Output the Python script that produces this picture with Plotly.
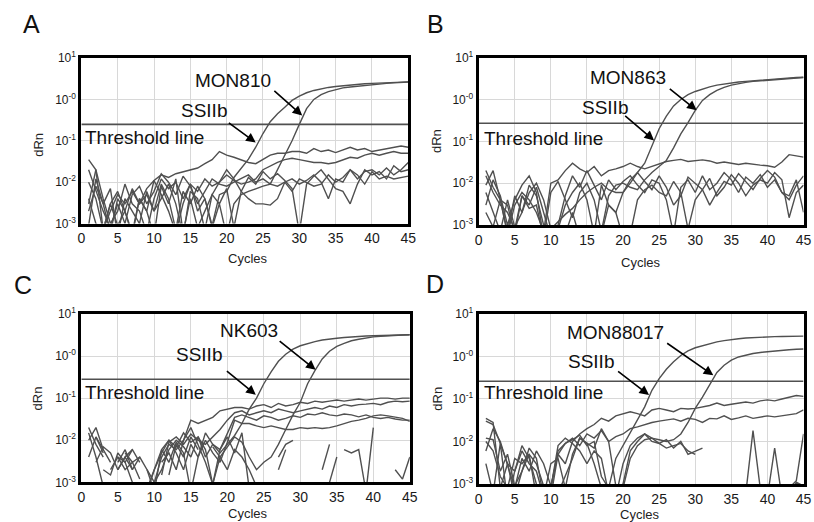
import math
import plotly.graph_objects as go

cycles = list(range(1, 46))
N = None

# ---------------- Panel A ----------------
A_ssiib = [.002,.008,.003,.0006,.004,.002,.007,.003,.005,.002,.009,.004,.0007,.006,.003,.008,.004,.0009,.005,
           .006,.013,.022,.036,.07,.15,.29,.45,.65,.95,1.2,1.45,1.65,1.8,1.95,2.05,2.15,2.25,2.32,2.4,2.45,2.5,2.55,2.6,2.63,2.66]
A_target = [.004,.001,.0007,.003,.006,.002,.0005,.004,.002,.011,.005,.002,.0006,.003,.009,.002,.004,.0008,.003,
            .0005,.003,.005,.006,.007,.008,.009,.02,.045,.1,.25,.6,1.0,1.3,1.55,1.75,1.9,2.0,2.1,2.2,2.3,2.38,2.45,2.52,2.58,2.64]
A_L1 = [.01,.004,.0007,.002,.005,.003,.006,.003,.007,
        .011,.015,.013,.016,.018,.02,.022,.028,.035,.055,
        .045,.04,.035,.03,.028,.035,.045,.05,.05,.055,
        .055,.05,.065,.055,.06,.052,.06,.07,.06,.065,
        .055,.06,.065,.07,.075,.07]
A_L2 = [.003,.02,.004,.001,.002,.009,.003,.002,.0006,.004,
        .012,.007,.01,.004,.009,.006,.012,.008,.01,.015,
        .011,.009,
        .01,.012,.02,.025,.03,.035,.038,.035,.033,.03,.03,.028,.03,.035,.04,.038,.045,.05,.045,.05,.055,.05,.05]
A_L3 = [.02,.006,.002,.0008,.003,.001,.005,.008,.003,.006,
        .016,.01,.005,.014,.008,.003,.006,.012,.009,.008,
        .01,.012,.015,.01,.012,.009,.008,.01,.006,.012,
        .01,.008,.009,.015,.01,.013,.02,.012,.018,.02,
        .015,.022,.015,.02,.03]
A_L4 = [.0009,.012,.003,.007,.0005,.004,.002,.001,.006,.002,
        .004,.009,.003,.0005,.006,.004,.0007,.005,.01,.02,
        .012,.006,.004,.003,.003,.0028,.004,.01,.012,.009,
        .011,.015,.01,.004,.012,.01,.02,.015,.009,.018,
        .012,.014,.012,.013,.014]
A_N1 = [.035,.02,.0007,.003,.0009,.002,.0006,.004,.002,.0005,
        .008,.003,.012,.0006,.004,.0008,.002,.005,.003,.007,
        .0008,.006,.013,.009,.018,.012,.016,.011,.007,.0006,
        .009,.014,.02,.012,.007,.006,.003,.009,.02,.015,
        .018,.012,.025,.018,.02]

# ---------------- Panel B ----------------
B_ssiib = [.006,.002,.0007,.004,.0009,.002,.006,.01,.004,.0008,.0012,.0018,.0025,.004,.006,.008,.01,.007,.006,
           .006,.01,.018,.03,.08,.2,.4,.7,1.0,1.3,1.55,1.8,2.0,2.2,2.35,2.5,2.6,2.7,2.8,2.9,3.0,3.1,3.2,3.3,3.35,3.4]
B_target = [.002,.0009,.004,.003,.0006,.005,.0025,.003,.0005,.006,.011,.004,.0015,.006,.01,.004,.0007,.005,.009,
            .01,.008,.007,.012,.018,.025,.035,.07,.15,.28,.55,.95,1.3,1.65,1.95,2.2,2.4,2.55,2.7,2.8,2.9,3.0,3.1,3.2,3.3,3.35]
B_L1 = [.02,.008,.004,.0006,.003,.006,.004,.002,.0007,.01,
        .012,.02,.03,.022,.018,.025,.015,.02,.022,.025,
        .03,.025,.022,.025,.028,.033,.035,.037,.033,.035,
        .036,.034,.03,.032,.03,.028,.03,.028,.027,.026,
        .024,.032,.048,.045,.042]
B_N1 = [.015,.006,.003,.002,.0008,.005,.003,.008,.002,.0005,
        .001,.005,.015,.008,.02,.009,.004,.012,.007,.011,
        .015,.009,.006,.012,.01,.004,.0006,.008,.012,.006,
        .015,.007,.01,.018,.012,.006,.014,.01,.016,.008,
        .012,.006,.005,.012,.002]
B_N2 = [.009,.02,.004,.0007,.005,.002,.009,.005,.001,.0004,
        .0008,.003,.006,.01,.004,.0006,.009,.003,.002,.006,
        .012,.018,.011,.007,.015,.008,.003,.005,.014,.01,
        .007,.003,.006,.011,.009,.017,.011,.007,.013,.02,
        .014,.006,.004,.009,.015]
B_N3 = [.003,.012,.005,.001,.004,.009,.015,.006,.0005,.0006,
        .0004,.0006,.002,.0005,.0009,.0004,.0006,.003,.002,.0005,
        .0006,.004,.007,.009,.006,.005,.011,.006,.0008,.004,
        .007,.013,.005,.008,.016,.01,.005,.009,.012,.01,
        .018,.012,.0015,.006,.009]

# ---------------- Panel C ----------------
C_ssiib = [.004,.012,.006,.003,N,.005,.003,.004,.002,.0006,.006,.01,.005,.002,.008,.004,.015,.008,.005,
           .008,.013,.025,.055,.1,.22,.42,.75,1.1,1.45,1.75,2.0,2.2,2.4,2.55,2.65,2.75,2.85,2.92,2.98,3.03,3.08,3.12,3.15,3.18,3.2]
C_target = [N,.003,.007,.005,.002,.004,.006,N,.002,.001,.002,.006,.01,.007,.004,.012,.006,.0009,.004,.007,.012,.009,.004,
            .002,.003,.004,.008,.018,.04,.08,.22,.45,.85,1.3,1.7,2.0,2.3,2.5,2.7,2.85,2.95,3.05,3.1,3.15,3.2]
C_L1 = [.015,.004,.0008,N,N,.004,.002,N,N,.001,.004,.008,.006,.01,
        .03,.025,.03,.035,.05,.055,.06,.06,.055,.065,
        .07,.06,.075,.065,.07,.08,.075,.085,.08,.085,
        .09,.085,.09,.095,.09,.095,.1,.1,.095,.1,
        .1]
C_L2 = [N,.012,.005,N,.003,.006,.002,.004,N,N,
        .0015,.009,.012,.008,.014,.01,.008,.012,.018,.03,
        .045,.05,.04,.045,.05,.045,.055,.05,.045,.05,
        .055,.06,.055,.065,.06,.07,.065,.07,.072,.075,
        .07,.08,.085,.082,.085]
C_L3 = [.003,N,N,.002,.004,.003,.006,N,.0006,.002,
        .005,.01,.007,.015,.009,.012,.004,.008,.006,.015,
        .035,.04,.035,.03,.038,.035,.03,.033,.038,.035,
        .042,.04,.045,.04,.038,.042,.04,.036,.04,.035,
        .033,.035,.032,.03,.03]
C_L4 = [N,N,.002,.0015,.005,.003,.001,N,.0007,.002,
        .006,.003,.009,.005,.0006,.004,.01,.005,.003,.009,
        .03,.025,.025,.022,.02,.022,.02,.018,.018,.02,
        .019,.02,.019,.02,.022,.025,.028,.03,.033,.038,
        .04,.038,.035,.033,.028]
C_N1 = [.02,.008,.004,N,.002,.004,.006,.003,N,.0008,
        N,.0015,.008,.004,.012,.006,N,.007,.004,.002,
        .006,.004,.002,.0008,N,N,.004,.008,.01,N,
        N,N,.002,.008,N,.006,.005,.006,.0006,.02,
        N,N,.002,.0012,.004]
C_N2 = [.01,.02,.006,N,.004,.002,.003,.0012,N,N,
        .003,.005,.002,.01,.02,.008,.003,.0009,.006,.012,
        .005,.015,.0007,.0005,N,N,.002,.006,N,N,
        N,N,N,.001,.004,N,N,N,N,N,
        N,N,N,N,N]

# ---------------- Panel D ----------------
D_ssiib = [.003,.0006,.009,.0004,.002,.006,.003,.002,.0005,.0008,.006,.009,.011,.014,.008,.01,.0015,.0008,.004,
           .008,.017,.032,.065,.16,.3,.5,.75,1.05,1.35,1.6,1.8,2.0,2.2,2.35,2.5,2.6,2.7,2.78,2.83,2.88,2.92,2.95,2.97,2.99,3.0]
D_target = [.01,.006,.0015,.0008,.004,.003,.005,.0005,.0007,.0004,.0006,.0015,.004,.012,.009,.007,.02,.01,.0009,
            .0008,.004,.008,.011,.012,.011,.01,.011,.015,.028,.06,.11,.22,.42,.62,.82,.97,1.08,1.17,1.24,1.3,1.35,1.4,1.44,1.48,1.5]
D_L1 = [.03,.025,.009,.003,.0005,.002,.005,.003,.0009,.0005,.005,.003,
        .01,.015,.02,.025,.035,.03,.04,.045,
        .05,.045,.04,.055,.06,.055,.05,.06,.058,.06,
        .065,.07,.08,.07,.075,.08,.085,.08,.09,.095,
        .09,.1,.11,.12,.115]
D_L2 = [.006,.02,.01,.003,.0008,.004,.002,.006,.003,.0009,
        .005,.009,.012,.008,.015,.012,.018,.01,.013,.015,
        .02,.022,.025,.028,.03,.032,.034,.03,.035,.033,
        .028,.035,.034,.04,.033,.036,.04,.035,.038,.04,
        .038,.04,.042,.045,.055]
D_L3 = [.012,.011,.002,.005,.0009,.002,.007,.004,.0005,.0008,
        .008,.012,.009,.006,.003,.006,.004,.0006,.0005,.003,
        .008,.012,.015,.01,.009,.011,.007,.01,.005,.006,
        .007,N,N,N,N,.0005,.0006,.018,.0008,.0005,
        .007,.0005,.0008,.0012,.015]
D_N1 = [.035,.028,.0008,.003,.002,.008,.004,.001,.0005,.003,
        .004,.0008,.005,.012,.009,.003,.0008,.0009,.0007,.001,
        .006,.01,.015,.012,.009,.007,.008,.009,.006,.005,
        N,N,N,N,N,N,.0005,.0007,.0005,N,
        N,N,.0005,.0011,.0009]

# threshold values (dRn) per panel
thresholds = [0.25, 0.27, 0.28, 0.26]
target_names = ["MON810", "MON863", "NK603", "MON88017"]
panel_letters = ["A", "B", "C", "D"]
x_ticks = [0, 5, 10, 15, 20, 25, 30, 35, 40, 45]
y_tickvals = [0.001, 0.01, 0.1, 1, 10]
y_ticktext = ["10<sup>-3</sup>", "10<sup>-2</sup>", "10<sup>-1</sup>", "10<sup>-0</sup>", "10<sup>1</sup>"]

panel_series = [
    [A_ssiib, A_target, A_L1, A_L2, A_L3, A_L4, A_N1],
    [B_ssiib, B_target, B_L1, B_N1, B_N2, B_N3],
    [C_ssiib, C_target, C_L1, C_L2, C_L3, C_L4, C_N1, C_N2],
    [D_ssiib, D_target, D_L1, D_L2, D_L3, D_N1],
]

W, H = 814, 522
# calibration: observed = offset + scale * designed (estimated from earlier renders)
OX, SX, OY, SY = 2.5, 0.987, 9.0, 0.967


def dx_(x):
    return (x - OX) / SX


def dy_(y):
    return (y - OY) / SY


def px(x):
    return min(max(dx_(x) / W, -0.05), 1.05)


def py(y):
    return 1 - dy_(y) / H


LW = 3
# plot frame in reference pixels (outer edge): (left, right, top, bottom)
boxes = [(78.5, 409, 56.5, 224.5), (476.5, 806, 56, 226),
         (78.5, 410.5, 311.7, 482.7), (476.5, 806, 311.7, 484.3)]

# arrows: (head cycle, head dRn, dx px, dy px) for target and SSIIb
arrows = [
    [(30.4, 0.41, -29, -25), (24.0, 0.091, -28, -20)],
    [(30.2, 0.55, -28, -22), (24.3, 0.105, -30, -25)],
    [(32.1, 0.47, -37, -29), (23.9, 0.12, -30, -24)],
    [(32.5, 0.36, -47, -32), (23.6, 0.123, -32, -24)],
]
target_text_pos = [(232, 80), (628, 77), (248, 330), (615, 332)]
ssiib_text_pos = [(203, 110), (605, 107), (198, 354), (591, 361)]
thr_text_pos = [(82, 137), (481, 138), (82, 392), (481, 392)]
letter_pos = [(30, 24), (435, 24), (22, 284), (434, 283)]
dRn_pos = [(37, 144), (436, 141), (37, 397), (437, 398)]
cycles_pos = [(247, 258), (641, 262), (247, 512), (640, 513)]

LINE = "#505050"
fig = go.Figure()
layout = dict(width=W, height=H, autosize=False, margin=dict(l=0, r=0, t=0, b=0),
              paper_bgcolor="white", plot_bgcolor="white", showlegend=False,
              font=dict(family="Arial, Liberation Sans, sans-serif", color="#222"))
annotations = []

for i in range(4):
    sfx = "" if i == 0 else str(i + 1)
    xa, ya = "x" + sfx, "y" + sfx
    l, r, t, b = boxes[i]
    dl, dr, dt, db = dx_(l) + LW / 2, min(dx_(r), W - 1) - LW / 2, dy_(t) + LW / 2, min(dy_(b), H) - LW / 2
    layout["xaxis" + sfx] = dict(domain=[dl / W, dr / W], range=[0, 45], anchor=ya,
                                 tickvals=x_ticks, showgrid=True, gridcolor="#d8d8d8", gridwidth=1,
                                 showline=True, linecolor="black", linewidth=LW, mirror=True,
                                 ticks="", tickfont=dict(size=14, color="#1a1a1a"), zeroline=False,
                                 ticklabeloverflow="allow")
    layout["yaxis" + sfx] = dict(domain=[1 - db / H, 1 - dt / H], type="log", range=[-3, 1], anchor=xa,
                                 tickvals=y_tickvals, ticktext=y_ticktext, showgrid=True,
                                 gridcolor="#d8d8d8", gridwidth=1,
                                 showline=True, linecolor="black", linewidth=LW, mirror=True,
                                 ticks="", tickfont=dict(size=12, color="#1a1a1a"), zeroline=False)
    for s in panel_series[i]:
        fig.add_trace(go.Scatter(x=cycles, y=s, mode="lines", xaxis=xa, yaxis=ya,
                                 line=dict(color=LINE, width=1.4), connectgaps=False,
                                 hoverinfo="skip"))
    thr = thresholds[i]
    fig.add_trace(go.Scatter(x=[0, 45], y=[thr, thr], mode="lines", xaxis=xa, yaxis=ya,
                             line=dict(color=LINE, width=1.6), hoverinfo="skip"))
    for (hx, hy, ax_, ay_) in arrows[i]:
        annotations.append(dict(x=hx, y=math.log10(hy), xref=xa, yref=ya, text="",
                                showarrow=True, ax=ax_ / SX, ay=ay_ / SY, arrowhead=2, arrowsize=1.2,
                                arrowwidth=1.6, arrowcolor="black", standoff=0))
    for txt, pos in [(target_names[i], target_text_pos[i]), ("SSIIb", ssiib_text_pos[i])]:
        annotations.append(dict(x=px(pos[0]), y=py(pos[1]), xref="paper", yref="paper",
                                text=txt, showarrow=False, font=dict(size=19, color="#111"),
                                xanchor="center", yanchor="middle"))
    annotations.append(dict(x=px(thr_text_pos[i][0]), y=py(thr_text_pos[i][1]), xref="paper",
                            yref="paper", text="Threshold line", showarrow=False,
                            font=dict(size=19, color="#111"), xanchor="left", yanchor="middle"))
    annotations.append(dict(x=px(letter_pos[i][0]), y=py(letter_pos[i][1]), xref="paper",
                            yref="paper", text=panel_letters[i], showarrow=False,
                            font=dict(size=25, color="#111"), xanchor="center", yanchor="middle"))
    annotations.append(dict(x=px(dRn_pos[i][0]), y=py(dRn_pos[i][1]), xref="paper",
                            yref="paper", text="dRn", showarrow=False, textangle=-90,
                            font=dict(size=13, color="#222"), xanchor="center", yanchor="middle"))
    annotations.append(dict(x=px(cycles_pos[i][0]), y=py(cycles_pos[i][1]), xref="paper",
                            yref="paper", text="Cycles", showarrow=False,
                            font=dict(size=13, color="#222"), xanchor="center", yanchor="middle"))

layout["annotations"] = annotations
fig.update_layout(**layout)
fig.write_html("out.html", config={"displayModeBar": False, "responsive": False},
               post_script="document.documentElement.style.margin='0';document.body.style.margin='0';"
                           "document.body.style.overflow='hidden';")
